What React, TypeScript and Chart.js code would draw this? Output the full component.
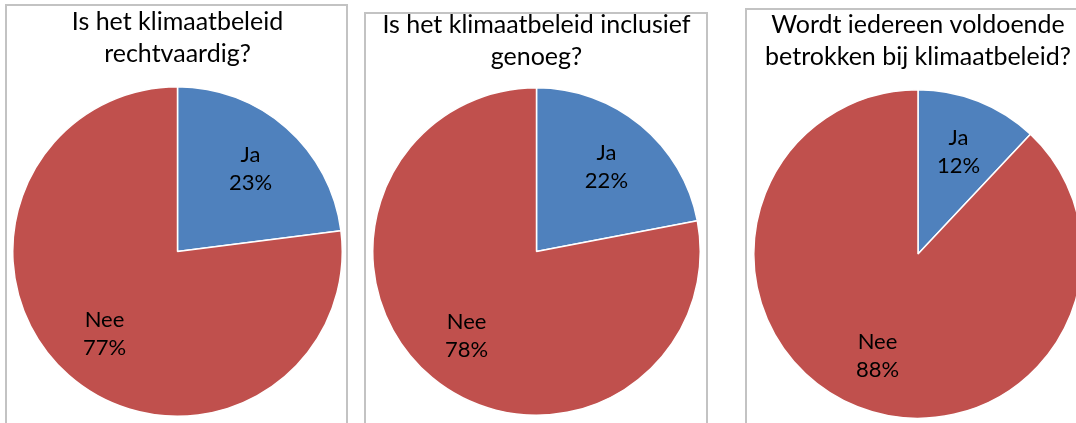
import React, { useEffect, useRef } from "react";
import { Chart, registerables } from "chart.js";

Chart.register(...registerables);

const categories = ["Ja", "Nee"];
const colors = ["#4F81BD", "#C0504D"];

const titleRechtvaardig = ["Is het klimaatbeleid", "rechtvaardig?"];
const titleInclusief = ["Is het klimaatbeleid inclusief", "genoeg?"];
const titleBetrokken = ["Wordt iedereen voldoende", "betrokken bij klimaatbeleid?"];

const valuesRechtvaardig = [23, 77];
const valuesInclusief = [22, 78];
const valuesBetrokken = [12, 88];

const FONT = "Lato, 'Open Sans', sans-serif";

// layout (positions and sizes only)
const panels = [
  { box: { left: 5, top: 4, width: 343 }, canvas: { left: 12, top: 0, size: 331, pieTop: 86 }, line1: 22 },
  { box: { left: 364, top: 12, width: 344 }, canvas: { left: 372, top: 0, size: 329, pieTop: 87 }, line1: 25 },
  { box: { left: 745, top: 8, width: 345 }, canvas: { left: 753, top: 0, size: 330, pieTop: 89 }, line1: 25 },
];

const labelPlugin = {
  id: "sliceLabels",
  afterDatasetsDraw(chart: any) {
    const ctx = chart.ctx;
    const meta = chart.getDatasetMeta(0);
    const ds = chart.data.datasets[0];
    ctx.save();
    ctx.fillStyle = "#000";
    ctx.font = `22px ${FONT}`;
    ctx.textAlign = "center";
    ctx.textBaseline = "middle";
    meta.data.forEach((arc: any, i: number) => {
      const p = arc.getProps(["x", "y", "startAngle", "endAngle", "outerRadius"], true);
      const mid = (p.startAngle + p.endAngle) / 2;
      const k = 0.67;
      const cx = p.x + Math.cos(mid) * p.outerRadius * k;
      const cy = p.y + Math.sin(mid) * p.outerRadius * k;
      ctx.fillText(String(chart.data.labels[i]), cx, cy - 14);
      ctx.fillText(`${ds.data[i]}%`, cx, cy + 14);
    });
    ctx.restore();
  },
};

function PiePanel({ title, values, layout }: { title: string[]; values: number[]; layout: any }) {
  const ref = useRef<HTMLCanvasElement | null>(null);
  const { box, canvas, line1 } = layout;
  const lineH = 32;
  const padTop = line1 - lineH / 2;
  const padBottom = canvas.pieTop - padTop - lineH * 2;
  useEffect(() => {
    if (!ref.current) return;
    const chart = new Chart(ref.current, {
      type: "pie",
      data: {
        labels: categories,
        datasets: [
          {
            data: values,
            backgroundColor: colors,
            borderColor: "#ffffff",
            borderWidth: 1.5,
          },
        ],
      },
      options: {
        responsive: false,
        animation: false,
        layout: { padding: 0 },
        plugins: {
          legend: { display: false },
          tooltip: { enabled: false },
          title: {
            display: true,
            text: title,
            color: "#000",
            font: { family: FONT, size: 25, weight: "normal", lineHeight: lineH / 25 },
            padding: { top: padTop, bottom: padBottom },
          },
        },
      },
      plugins: [labelPlugin],
    });
    return () => chart.destroy();
  }, []);
  return (
    <>
      <div
        style={{
          position: "absolute",
          left: box.left,
          top: box.top,
          width: box.width,
          height: 500,
          border: "2px solid #c3c3c3",
          boxSizing: "border-box",
          background: "#fff",
        }}
      />
      <canvas
        ref={ref}
        width={canvas.size}
        height={canvas.pieTop + canvas.size}
        style={{ position: "absolute", left: canvas.left, top: canvas.top }}
      />
    </>
  );
}

export default function App() {
  return (
    <div
      style={{
        position: "absolute",
        left: 0,
        top: 0,
        width: 1076,
        height: 423,
        overflow: "hidden",
        background: "#fff",
      }}
    >
      <PiePanel title={titleRechtvaardig} values={valuesRechtvaardig} layout={panels[0]} />
      <PiePanel title={titleInclusief} values={valuesInclusief} layout={panels[1]} />
      <PiePanel title={titleBetrokken} values={valuesBetrokken} layout={panels[2]} />
    </div>
  );
}
